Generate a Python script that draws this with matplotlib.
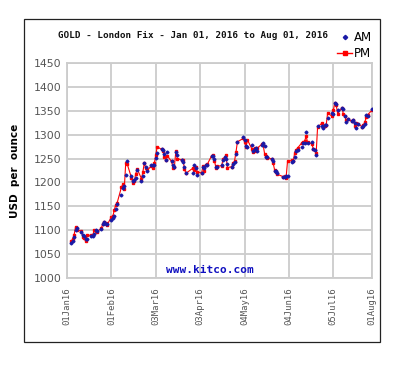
import numpy as np
import pandas as pd
import matplotlib
matplotlib.use("Agg")
import matplotlib.pyplot as plt
from matplotlib.patches import Rectangle
from matplotlib.lines import Line2D

# London fix, business days Jan 4 - Aug 1 2016 (UK holidays skipped)
holidays = ["2016-03-25", "2016-03-28", "2016-05-02", "2016-05-30"]
dates = pd.bdate_range("2016-01-04", "2016-08-01", freq="C", holidays=holidays)

am = [1073, 1077, 1086, 1100, 1104, 1096, 1090, 1087, 1081, 1082,
      1088, 1087, 1093, 1100, 1099, 1102, 1113, 1117, 1114, 1112,
      1121, 1126, 1130, 1145, 1154, 1173, 1188, 1193, 1215, 1245,
      1213, 1203, 1206, 1210, 1227, 1204, 1214, 1240, 1233, 1223, 1236,
      1236, 1236, 1251, 1262, 1269, 1268, 1259, 1246, 1264, 1245,
      1236, 1233, 1264, 1257, 1246, 1242, 1233, 1219, 1220, 1237, 1230,
      1216, 1220, 1232, 1230, 1236, 1237, 1255, 1255, 1250, 1233,
      1232, 1236, 1246, 1254, 1249, 1238, 1233, 1239, 1242, 1260, 1284,
      1295, 1288, 1276, 1275, 1279, 1265, 1269, 1272, 1265, 1279,
      1282, 1276, 1253, 1254, 1250, 1245, 1225, 1223, 1220, 1212,
      1211, 1213, 1213, 1243, 1244, 1253, 1265, 1268, 1275, 1283,
      1283, 1306, 1283, 1284, 1269, 1267, 1257, 1319, 1318, 1314, 1320, 1321,
      1334, 1345, 1344, 1366, 1364, 1352, 1356, 1353, 1340, 1326,
      1332, 1328, 1330, 1324, 1313, 1322, 1316, 1319, 1323, 1342, 1340,
      1353]
pm = [1078, 1081, 1091, 1107, 1101, 1098, 1086, 1083, 1077, 1090,
      1089, 1089, 1101, 1098, 1097, 1104, 1114, 1117, 1116, 1111,
      1128, 1129, 1142, 1153, 1157, 1190, 1196, 1187, 1240, 1239,
      1210, 1199, 1203, 1218, 1228, 1208, 1222, 1241, 1230, 1226, 1234,
      1231, 1240, 1258, 1275, 1269, 1266, 1253, 1248, 1256, 1244,
      1231, 1233, 1265, 1250, 1247, 1248, 1229, 1219, 1230, 1226, 1233,
      1222, 1220, 1234, 1225, 1236, 1238, 1256, 1257, 1245, 1231,
      1234, 1235, 1249, 1252, 1257, 1231, 1233, 1240, 1245, 1263, 1285,
      1292, 1285, 1274, 1289, 1271, 1263, 1273, 1266, 1272, 1280,
      1278, 1260, 1255, 1252, 1249, 1240, 1226, 1222, 1217, 1212,
      1213, 1210, 1244, 1246, 1244, 1262, 1268, 1272, 1283, 1284,
      1287, 1297, 1284, 1281, 1270, 1267, 1261, 1316, 1324, 1316, 1318, 1320,
      1345, 1339, 1351, 1366, 1362, 1344, 1356, 1343, 1339, 1330,
      1332, 1328, 1330, 1319, 1324, 1323, 1317, 1320, 1327, 1336, 1342,
      1351]

tick_dates = ["2016-01-01", "2016-02-01", "2016-03-03", "2016-04-03",
              "2016-05-04", "2016-06-04", "2016-07-05", "2016-08-01"]
tick_labels = ["01Jan16", "01Feb16", "03Mar16", "03Apr16",
               "04May16", "04Jun16", "05Jul16", "01Aug16"]
yticks = np.arange(1000, 1451, 50)

grid_c = "#cccccc"
fig = plt.figure(figsize=(4.03, 3.68), dpi=100)
ax = fig.add_axes([67/403, 1 - 278/368, 305/403, 215/368])

ax.plot(dates, pm, color="#ff0000", lw=0.8, marker="s", ms=1.8, mec="#ff0000", zorder=3)
ax.plot(dates, am, ls="none", marker="D", ms=1.5, color="#1a1aa6", zorder=4)

ax.set_xlim(pd.Timestamp("2016-01-01"), pd.Timestamp("2016-08-01"))
ax.set_ylim(1000, 1450)
ax.set_xticks(pd.to_datetime(tick_dates))
ax.set_xticklabels(tick_labels, rotation=90, family="DejaVu Sans Mono",
                   fontsize=6.4, color="#555555")
ax.set_yticks(yticks)
ax.set_yticklabels([str(v) for v in yticks],
                   family=["Liberation Sans Narrow", "DejaVu Sans"], fontsize=7.8, color="#555555")
ax.tick_params(axis="both", length=0)
ax.tick_params(axis="x", pad=7)
ax.tick_params(axis="y", pad=4)
ax.grid(True, color=grid_c, lw=1.3)
for s in ax.spines.values():
    s.set_color(grid_c)
    s.set_linewidth(1.3)

ax.set_ylabel("USD  per  ounce", fontsize=7.5, fontweight="bold", labelpad=10)

ax.text(0.47, 0.015, "www.kitco.com", transform=ax.transAxes, ha="center", va="bottom",
        family="DejaVu Sans Mono", fontweight="bold", fontsize=8, color="#1010c0")

fig.text(193/403, 1 - 35/368, "GOLD - London Fix - Jan 01, 2016 to Aug 01, 2016",
         ha="center", va="center", family="DejaVu Sans Mono", fontweight="bold",
         fontsize=6.7, color="#111111")

handles = [Line2D([], [], ls="none", marker="D", ms=2.2, color="#1a1aa6"),
           Line2D([], [], color="#ff0000", lw=1, marker="s", ms=2.8)]
fig.legend(handles, ["AM", "PM"], loc="upper right", bbox_to_anchor=(378/403, 1 - 25/368),
           frameon=False, handlelength=1.2, handletextpad=0.2,
           labelspacing=0.25, borderpad=0,
           prop={"family": ["Liberation Sans Narrow", "DejaVu Sans"], "size": 8.5})

fig.add_artist(Rectangle((24/403, 1 - 342/368), 356/403, 323/368,
                         transform=fig.transFigure, fill=False, ec="#222222", lw=0.9))

fig.savefig("out.png", dpi=100)
